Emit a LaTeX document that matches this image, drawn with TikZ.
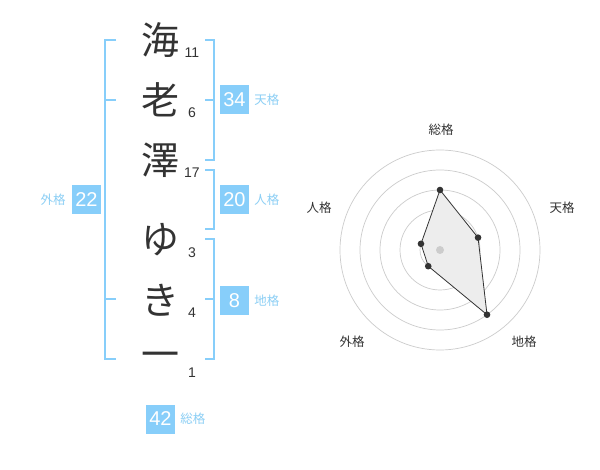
\documentclass[tikz,border=0pt]{standalone}
\usepackage{fontspec}
\setmainfont{Liberation Sans}
\newfontfamily\jp{Noto Sans CJK JP}
\usetikzlibrary{positioning}
\definecolor{kaku}{HTML}{87CEFA}
\definecolor{kakutext}{HTML}{8CCFF5}
\definecolor{ink}{HTML}{333333}
\tikzset{
kanji/.style={font=\jp\fontsize{38}{38}\selectfont,text=ink,inner sep=0pt},
kakusu/.style={font=\fontsize{14}{14}\selectfont,text=ink,inner sep=0pt},
numbox/.style={fill=kaku,text=white,minimum size=29pt,inner sep=0pt,font=\fontsize{20}{20}\selectfont},
kakulabel/.style={font=\jp\fontsize{12.5}{12.5}\selectfont,text=kakutext,inner sep=0pt},
brace/.style={draw=kaku,line width=2pt},
ring/.style={draw=black!20,line width=0.7pt},
axislabel/.style={font=\jp\fontsize{12.5}{12.5}\selectfont,text=ink,inner sep=0pt}
}
\begin{document}
\begin{tikzpicture}[x=1pt,y=-1pt]
\path[fill=white] (0,0) rectangle (600,470);
% name and stroke counts
\foreach \c/\y/\s [count=\i] in {海/40/11,老/100/6,澤/160/17,ゆ/240/3,き/300/4,一/360/1}{
\node[kanji] (c\i) at (160,\y) {\c};
\node[kakusu] (s\i) at (192,\y+13) {\s};
}
% brackets
\draw[brace] (116,40)-|(105,359)--(116,359) (105,100)--(116,100) (105,299)--(116,299);
\draw[brace] (205,40)-|(214,160)--(205,160) (205,100)--(214,100);
\draw[brace] (205,170)-|(214,229)--(205,229);
\draw[brace] (205,239)-|(214,359)--(205,359) (205,299)--(214,299);
% boxes
\node[numbox] (ten) at (234.5,100) {34};
\node[kakulabel,right=5pt of ten] (tenl) {天格};
\node[numbox] (jin) at (234.5,200) {20};
\node[kakulabel,right=5pt of jin] (jinl) {人格};
\node[numbox] (chi) at (234.5,300.5) {8};
\node[kakulabel,right=5pt of chi] (chil) {地格};
\node[numbox] (gai) at (86.5,200) {22};
\node[kakulabel,left=6pt of gai] (gail) {外格};
\node[numbox] (so) at (160.5,419) {42};
\node[kakulabel,right=5pt of so] (sol) {総格};
% radar
\begin{scope}[shift={(440,250)}]
\coordinate (o) at (0,0);
\foreach \r in {20,40,60,80,100} \draw[ring] (o) circle[radius=\r pt];
\foreach \a/\r/\n in {-90/60/so,-18/40/ten,54/80/chi,126/20/gai,198/20/jin} \coordinate (r\n) at (\a:\r);
\fill[black!7] (rso)--(rten)--(rchi)--(rgai)--(rjin)--cycle;
\fill[black!20] (o) circle[radius=4pt];
\draw[ink,line width=0.8pt] (rso)--(rten)--(rchi)--(rgai)--(rjin)--cycle;
\foreach \n in {so,ten,chi,gai,jin} \fill[ink] (r\n) circle[radius=3.3pt];
\end{scope}
\node[axislabel] (lso) at (441,130) {総格};
\node[axislabel] (lten) at (562,208) {天格};
\node[axislabel] (lchi) at (524,342) {地格};
\node[axislabel] (lgai) at (352,342) {外格};
\node[axislabel] (ljin) at (319,208) {人格};
\end{tikzpicture}
\end{document}
